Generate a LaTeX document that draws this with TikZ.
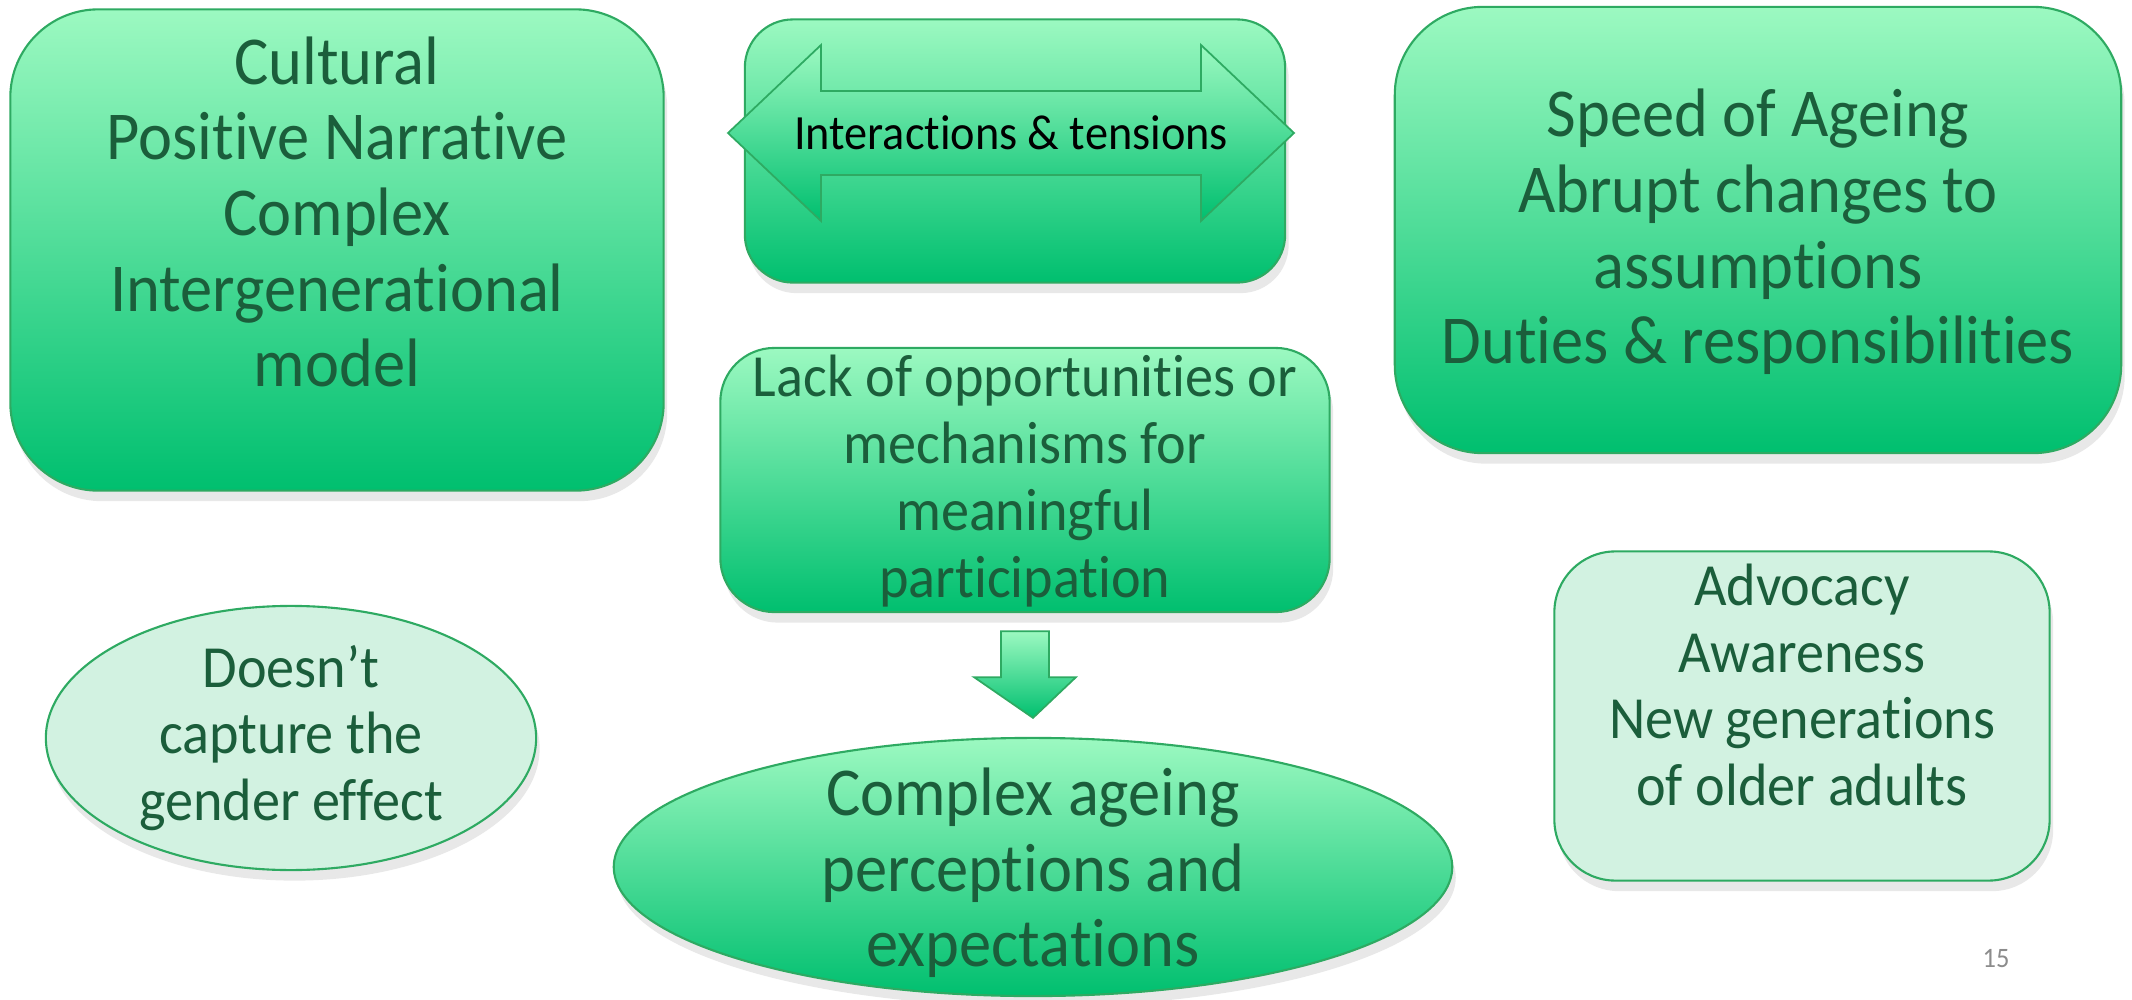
\documentclass[tikz,border=0pt]{standalone}
\usepackage{fontspec}
\setmainfont{Carlito}[FakeStretch=0.94, Ligatures=NoCommon]
\usepackage{xcolor}
\usetikzlibrary{shapes,arrows,positioning,calc,shadows}

\definecolor{mintTop}{HTML}{9CF9C1}
\definecolor{mintBot}{HTML}{00BF6F}
\definecolor{mintLine}{HTML}{2EAA62}
\definecolor{mintPale}{HTML}{D2F2E1}
\definecolor{darkText}{HTML}{1B5E3B}

\begin{document}
\begin{tikzpicture}[x=0.01cm, y=-0.01cm,
    greenbox/.style={draw=mintLine, line width=0.6pt, top color=mintTop, bottom color=mintBot,
        drop shadow={shadow xshift=1pt, shadow yshift=-3pt, opacity=0.18}},
    palebox/.style={draw=mintLine, line width=0.6pt, fill=mintPale,
        drop shadow={shadow xshift=1pt, shadow yshift=-3pt, opacity=0.18}},
    arrowfill/.style={draw=mintLine, line width=0.5pt, top color=mintTop, bottom color=mintBot},
    bigtext/.style={align=center, text=darkText, inner sep=0pt, font=\fontsize{19.5}{21.5}\selectfont},
    smalltext/.style={align=center, text=darkText, inner sep=0pt, font=\fontsize{17}{19}\selectfont}]
    \useasboundingbox (0,0) rectangle (2132,1000);

    % top row
    \node[greenbox, rounded corners=0.88cm, minimum width=6.53cm, minimum height=4.81cm] (cult) at (337,250) {};
    \node[bigtext] (cultT) at (337,212) {Cultural\\Positive Narrative\\Complex\\Intergenerational\\model};

    \node[greenbox, rounded corners=0.48cm, minimum width=5.40cm, minimum height=2.63cm] (inter) at (1015,151) {};
    \coordinate (tens) at (1011,133);
    \draw[arrowfill] ($(tens)+(-283,0)$) -- ($(tens)+(-190,-88)$) -- ($(tens)+(-190,-42)$)
        -- ($(tens)+(190,-42)$) -- ($(tens)+(190,-88)$) -- ($(tens)+(283,0)$)
        -- ($(tens)+(190,88)$) -- ($(tens)+(190,42)$) -- ($(tens)+(-190,42)$)
        -- ($(tens)+(-190,88)$) -- cycle;
    \node[font=\fontsize{14}{16}\selectfont] (tensT) at (tens) {Interactions \& tensions};

    \node[greenbox, rounded corners=0.88cm, minimum width=7.26cm, minimum height=4.46cm] (speed) at (1758,230) {};
    \node[bigtext] (speedT) at (1758,232) {Speed of Ageing\\Abrupt changes to\\assumptions\\Duties \& responsibilities};

    % middle
    \node[greenbox, rounded corners=0.54cm, minimum width=6.09cm, minimum height=2.64cm] (lack) at (1025,480) {};
    \node[smalltext] (lackT) at (1025,481) {Lack of opportunities or\\mechanisms for\\meaningful\\participation};

    % bottom row
    \node[ellipse, greenbox, minimum width=8.38cm, minimum height=2.58cm] (expect) at (1033,867) {};
    \node[bigtext] (expectT) at (1033,873) {Complex ageing\\perceptions and\\expectations};

    \node[ellipse, palebox, minimum width=4.90cm, minimum height=2.64cm] (gender) at (291,738) {};
    \node[smalltext] (genderT) at (291,738) {Doesn’t\\capture the\\gender effect};

    \node[palebox, rounded corners=0.61cm, minimum width=4.95cm, minimum height=3.29cm] (advo) at (1802,716) {};
    \node[smalltext] (advoT) at (1802,685) {Advocacy\\Awareness\\New generations\\of older adults};

    % block arrow down
    \coordinate (dTop) at ($(lack.south)+(0,18)$);
    \coordinate (dTip) at ($(expect.north)+(0,-19)$);
    \draw[arrowfill] ($(dTop)+(-24,0)$) -- ($(dTop)+(24,0)$) -- ($(dTop)+(24,46)$)
        -- ($(dTop)+(51,46)$) -- (dTip) -- ($(dTop)+(-51,46)$) -- ($(dTop)+(-24,46)$) -- cycle;

    \node[text=black!45, font=\fontsize{8}{9}\selectfont] (page) at (1996,959) {15};
\end{tikzpicture}
\end{document}
